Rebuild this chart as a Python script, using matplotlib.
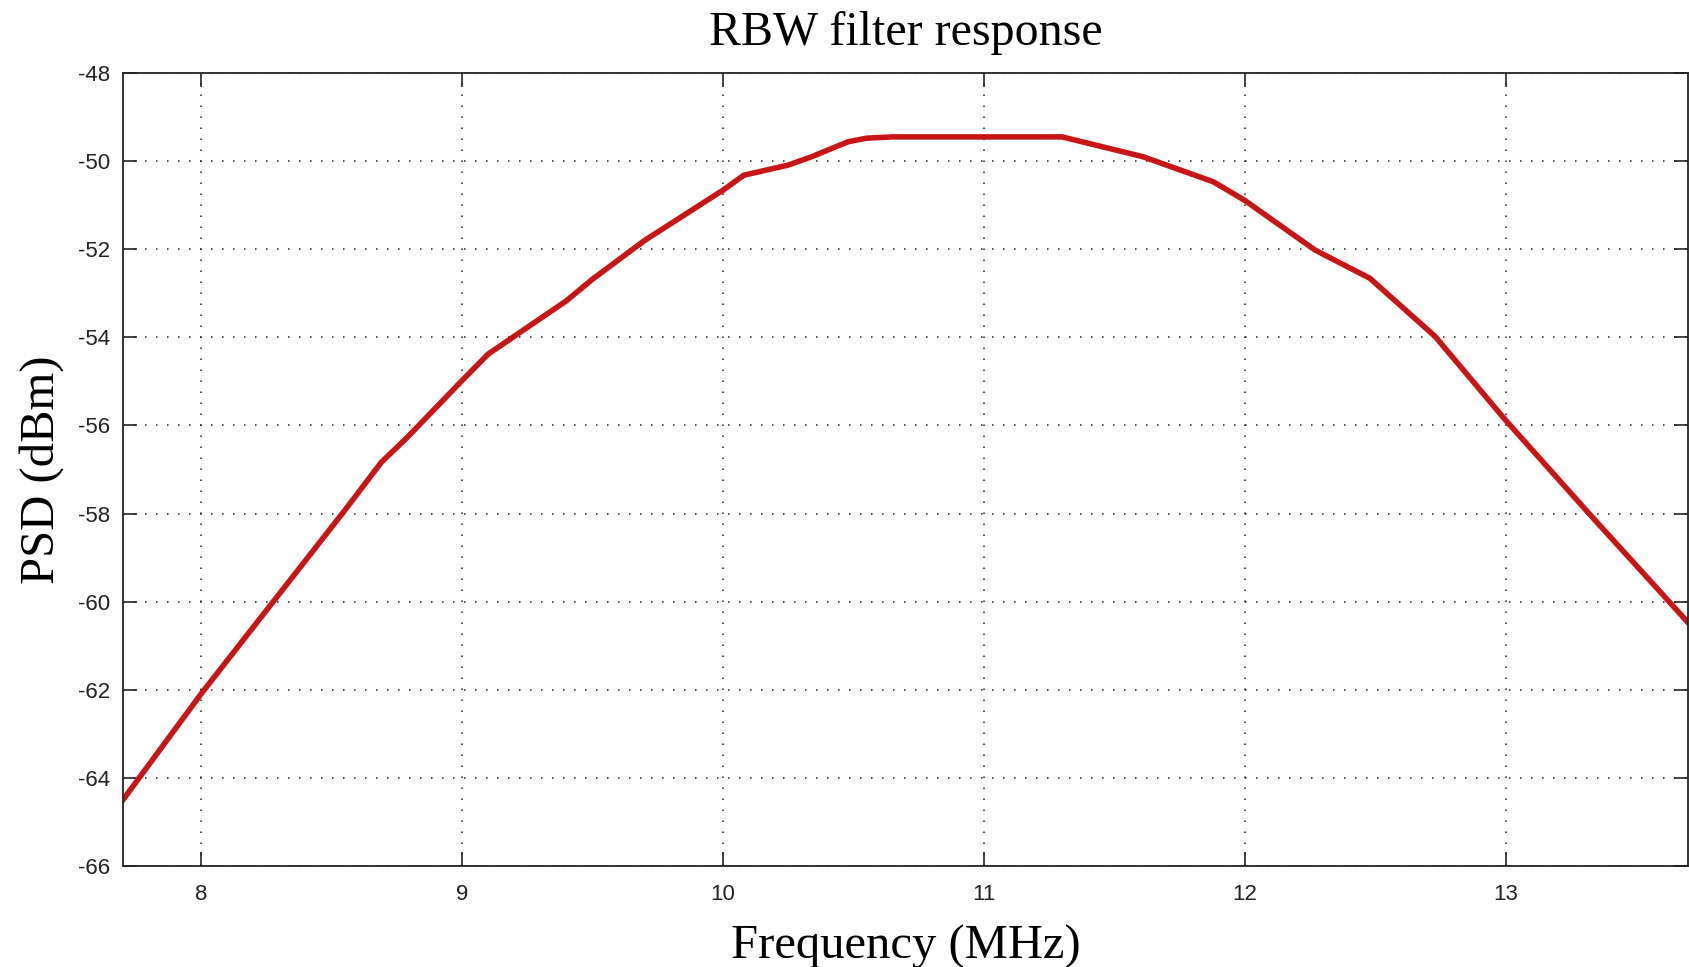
import numpy as np
import matplotlib.pyplot as plt

plt.rcParams['axes.unicode_minus'] = False

# RBW filter response (MHz, dBm)
freq_mhz = [7.70, 8.00, 8.28, 8.55, 8.69, 8.79, 9.00, 9.10, 9.40, 9.50, 9.70,
            10.00, 10.08, 10.25, 10.34, 10.48, 10.55, 10.65, 11.30, 11.61,
            11.88, 12.00, 12.27, 12.48, 12.73, 13.00, 13.32, 13.67, 13.70]
psd_dbm = [-64.50, -62.09, -59.97, -57.93, -56.84, -56.27, -54.98, -54.38, -53.17,
           -52.68, -51.80, -50.66, -50.32, -50.09, -49.90, -49.56, -49.48, -49.45,
           -49.45, -49.90, -50.47, -50.89, -52.02, -52.66, -53.98, -55.88, -58.00,
           -60.28, -60.48]

x_ticks = [8, 9, 10, 11, 12, 13]
y_ticks = np.arange(-66, -47, 2)

fig = plt.figure(figsize=(16.89, 9.67), dpi=100)
ax = fig.add_axes([0.0728, 0.1045, 0.9267, 0.82])

ax.plot(freq_mhz, psd_dbm, color='#c81616', linewidth=4, solid_joinstyle='round')

ax.set_xlim(7.7, 13.7)
ax.set_ylim(-66, -48)
ax.set_xticks(x_ticks)
ax.set_yticks(y_ticks)

ax.grid(True, color='#222222', linestyle=(0, (1, 6.2)), linewidth=1.1)
ax.tick_params(direction='in', length=10, width=1.2, top=True, right=True,
               labelsize=16, colors='#222222')
ax.tick_params(axis='x', pad=13)
ax.tick_params(axis='y', pad=9)
for lab in ax.get_xticklabels() + ax.get_yticklabels():
    lab.set_family('Liberation Sans')
for sp in ax.spines.values():
    sp.set_linewidth(1.3)
    sp.set_color('#222222')

serif = {'family': 'Liberation Serif'}
ax.set_title("RBW filter response", fontsize=34.5, pad=20, fontdict=serif)
ax.set_xlabel("Frequency (MHz)", fontsize=35, labelpad=14, fontdict=serif)
ax.set_ylabel("PSD (dBm)", fontsize=35, labelpad=10, fontdict=serif)

plt.savefig("out.png", dpi=100)
